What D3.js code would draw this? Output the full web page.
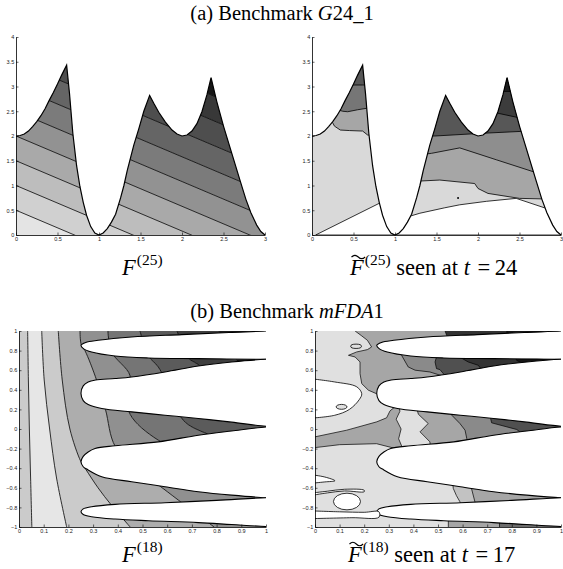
<!DOCTYPE html>
<html>
<head>
<meta charset="utf-8">
<script src="https://cdnjs.cloudflare.com/ajax/libs/d3/7.8.5/d3.min.js"></script>
<style>
  body { margin: 0; background: #fff; }
  svg { display: block; }
</style>
</head>
<body>
<script>
// ---------------- data: (a) G24_1 ----------------
const g24XTicks = [0, 0.5, 1, 1.5, 2, 2.5, 3];
const g24YTicks = [0, 0.5, 1, 1.5, 2, 2.5, 3, 3.5, 4];

// upper edge of the feasible region
const g24Boundary = [[0,2.0],[0.05,2.01],[0.1,2.04],[0.15,2.1],[0.2,2.19],[0.25,2.29],[0.3,2.41],[0.35,2.55],
  [0.4,2.72],[0.45,2.88],[0.5,3.05],[0.55,3.23],[0.61,3.43],[0.645,2.85],[0.685,2.05],[0.73,1.4],[0.77,0.98],
  [0.81,0.66],[0.85,0.4],[0.9,0.17],[0.95,0.04],[1.0,0],[1.05,0.04],[1.1,0.13],[1.15,0.26],[1.2,0.42],
  [1.26,0.75],[1.3,1.0],[1.34,1.3],[1.42,1.82],[1.48,2.15],[1.54,2.5],[1.61,2.82],[1.66,2.66],[1.72,2.48],
  [1.8,2.28],[1.88,2.12],[1.94,2.04],[2.0,2.0],[2.06,2.02],[2.12,2.1],[2.18,2.25],[2.24,2.49],[2.3,2.83],
  [2.35,3.18],[2.42,2.69],[2.5,2.2],[2.6,1.65],[2.7,1.1],[2.77,0.72],[2.83,0.45],[2.9,0.2],[2.95,0.07],[3.0,0]];

// F(25): straight level lines  y = level - slope * x
const g24Levels = [0.5, 1, 1.5, 2, 2.5, 3, 3.5, 4, 4.5];
const g24Slope = 0.71;

// approximation seen at t = 24: level index + outline
const g24ApproxLevel = [1, 3, 4, 1, 2, 4, 5, 6];
const g24ApproxShapes = [
  [[0.2,2.6],[0.233,2.32],[0.27,2.2],[0.341,2.12],[0.45,2.11],[0.61,2.1],[0.67,2.02],[0.8,2.0],[0.8,3.8],[0.2,3.8]],
  [[0.28,2.9],[0.31,2.53],[0.37,2.5],[0.43,2.49],[0.55,2.53],[0.66,2.56],[0.8,2.56],[0.8,3.8],[0.28,3.8]],
  [[0.45,3.3],[0.47,3.03],[0.61,3.03],[0.8,3.03],[0.8,3.8],[0.45,3.8]],
  [[1.2,1.09],[1.3,1.09],[1.54,1.11],[1.96,1.04],[2.0,0.94],[2.12,0.84],[2.5,0.74],[2.76,0.73],[3.2,0.73],[3.2,3.8],[1.2,3.8]],
  [[1.3,1.62],[1.44,1.65],[1.78,1.76],[2.22,1.52],[2.7,1.26],[3.2,1.1],[3.2,3.8],[1.3,3.8]],
  [[1.4,2.0],[1.48,2.0],[2.0,2.05],[2.6,2.1],[3.2,2.1],[3.2,3.8],[1.4,3.8]],
  [[2.15,2.5],[2.24,2.46],[2.49,2.37],[2.7,2.35],[2.7,3.8],[2.15,3.8]],
  [[2.25,2.9],[2.32,2.9],[2.42,2.9],[2.6,2.9],[2.6,3.8],[2.25,3.8]]
];
const g24ApproxEmpty = [
  [[0.044,0],[0.81,0.64],[0.98,0.64],[0.98,0]],
  [[1.0,0],[1.0,0.39],[1.2,0.39],[1.3,0.44],[1.6,0.55],[1.78,0.61],[2.1,0.68],[2.46,0.74],[2.8,0.55],[3.2,0.55],[3.2,0]]
];
const g24ApproxDot = [1.76, 0.75];

// ---------------- data: (b) mFDA1 ----------------
const fdaXTicks = [0, 0.1, 0.2, 0.3, 0.4, 0.5, 0.6, 0.7, 0.8, 0.9, 1];
const fdaYTicks = [-1, -0.8, -0.6, -0.4, -0.2, 0, 0.2, 0.4, 0.6, 0.8, 1];

// infeasible lobes: upper edge (right -> tip) then lower edge (tip -> right)
const fdaHoles = [
  [[1.06,1.01],[1.0,1.0],[0.85,0.985],[0.659,0.963],[0.456,0.939],[0.32,0.905],[0.27,0.883],[0.251,0.854],
   [0.262,0.818],[0.294,0.786],[0.389,0.745],[0.524,0.725],[0.726,0.718],[1.0,0.711],[1.06,0.71]],
  [[1.06,0.712],[1.0,0.711],[0.861,0.684],[0.726,0.643],[0.591,0.582],[0.456,0.531],[0.389,0.515],[0.31,0.5],
   [0.28,0.48],[0.26,0.44],[0.251,0.362],[0.26,0.29],[0.28,0.25],[0.335,0.209],[0.456,0.175],[0.591,0.141],
   [0.726,0.107],[0.861,0.07],[1.0,0.028],[1.06,0.025]],
  [[1.06,0.02],[1.0,0.02],[0.861,-0.02],[0.726,-0.063],[0.564,-0.131],[0.389,-0.171],[0.308,-0.199],[0.28,-0.235],
   [0.26,-0.28],[0.251,-0.334],[0.26,-0.385],[0.274,-0.409],[0.335,-0.487],[0.456,-0.538],[0.591,-0.589],
   [0.726,-0.64],[0.861,-0.675],[1.0,-0.701],[1.06,-0.703]],
  [[1.06,-0.7],[1.0,-0.701],[0.8,-0.728],[0.591,-0.752],[0.389,-0.769],[0.294,-0.793],[0.26,-0.815],[0.251,-0.844],
   [0.26,-0.872],[0.294,-0.895],[0.389,-0.919],[0.524,-0.936],[0.726,-0.955],[0.861,-0.975],[1.0,-0.995],[1.06,-0.998]]
];

// F(18): level curves, top (y=1) to bottom (y=-1)
const fdaContours = [
  [[0.035,1],[0.038,0.5],[0.042,0],[0.047,-0.5],[0.052,-1]],
  [[0.092,1],[0.102,0.5],[0.124,0],[0.152,-0.5],[0.193,-1]],
  [[0.159,1],[0.175,0.5],[0.206,0],[0.25,-0.33],[0.27,-0.41],[0.32,-0.6],[0.375,-0.78],[0.45,-1]],
  [[0.247,1],[0.252,0.86],[0.267,0.8],[0.314,0.5],[0.35,0.2],[0.39,-0.18],[0.5,-0.45],[0.564,-0.57],[0.645,-0.725],[0.79,-1]],
  [[0.36,1],[0.375,0.786],[0.449,0.548],[0.44,0.35],[0.45,0.15],[0.564,-0.114],[0.8,-0.35],[1.1,-0.6],[1.3,-1]],
  [[0.49,1],[0.524,0.745],[0.564,0.633],[0.62,0.35],[0.665,0.09],[0.766,-0.053],[1.1,-0.3],[1.5,-1]],
  [[0.64,1],[0.686,0.725],[0.72,0.667],[0.9,0.35],[1.15,0.0],[1.4,-0.4],[1.8,-1]],
  [[0.81,1],[0.875,0.72],[1.0,0.55],[1.4,0],[2.0,-1]]
];
// grey level of each band between successive curves (left of first .. right of last)
const fdaBandLevel = [1, 0, 1, 2, 3, 4, 5, 6, 7];

// approximation seen at t = 17
const fdaApproxLevel = [2, 3, 5, 6, 7, 6, 7, 2, 2, 3, 5, 1, 2, 2, 4];
const fdaApproxShapes = [
  [[0.163,1.05],[0.163,1.0],[0.19,0.95],[0.213,0.905],[0.23,0.837],[0.213,0.81],[0.169,0.786],[0.136,0.752],
   [0.163,0.735],[0.183,0.684],[0.183,0.565],[0.19,0.463],[0.217,0.396],[0.25,0.36],[1.1,0.36],[1.1,1.05]],
  [[0.33,0.82],[0.352,0.752],[0.379,0.633],[0.407,0.6],[0.467,0.582],[0.52,0.54],[1.1,0.54],[1.1,0.85],[0.33,0.85]],
  [[0.49,0.8],[0.494,0.735],[0.488,0.684],[0.494,0.616],[0.508,0.606],[0.53,0.54],[1.1,0.54],[1.1,0.8]],
  [[0.57,0.8],[0.576,0.752],[0.623,0.684],[0.664,0.65],[0.671,0.626],[0.68,0.6],[1.1,0.6],[1.1,0.8]],
  [[0.81,0.75],[0.82,0.70],[0.833,0.684],[0.85,0.66],[1.1,0.66],[1.1,0.75]],
  [[0.529,1.05],[0.529,1.0],[0.535,0.956],[0.55,0.9],[1.1,0.9],[1.1,1.05]],
  [[0.78,1.05],[0.78,0.95],[1.1,0.95],[1.1,1.05]],
  [[-0.05,-0.08],[0.0,-0.08],[0.129,-0.012],[0.251,0.073],[0.291,0.114],[0.305,0.185],[0.325,0.226],[0.34,0.3],
   [0.345,0.18],[0.33,0.1],[0.35,0.0],[0.34,-0.1],[0.36,-0.22],[0.25,-0.15],[0.1,-0.16],[0.0,-0.19],[-0.05,-0.19]],
  [[0.41,0.25],[0.42,0.151],[0.46,0.056],[0.427,-0.029],[0.467,-0.131],[0.47,-0.2],[1.1,-0.2],[1.1,0.25]],
  [[0.55,0.2],[0.556,0.141],[0.589,0.056],[0.61,-0.012],[0.617,-0.097],[0.62,-0.15],[1.1,-0.15],[1.1,0.2]],
  [[0.71,0.15],[0.718,0.063],[0.82,-0.005],[0.833,-0.029],[0.84,-0.06],[1.1,-0.06],[1.1,0.15]],
  [[0.56,-0.55],[0.562,-0.606],[0.575,-0.68],[0.589,-0.742],[0.6,-0.8],[1.1,-0.8],[1.1,-0.55]],
  [[0.634,-0.58],[0.636,-0.606],[0.65,-0.742],[0.66,-0.8],[1.1,-0.8],[1.1,-0.58]],
  [[0.542,-0.9],[0.542,-1.05],[1.1,-1.05],[1.1,-0.9]],
  [[0.75,-0.9],[0.75,-1.05],[1.1,-1.05],[1.1,-0.9]]
];
// areas below the lowest level (left unfilled)
const fdaApproxEmpty = [
  [[-0.02,0.514],[0.08,0.48],[0.17,0.43],[0.19,0.36],[0.18,0.3],[0.14,0.2],[0.08,0.14],[-0.02,0.11]],
  [[-0.02,-0.465],[0.04,-0.49],[0.081,-0.528],[0.04,-0.54],[-0.02,-0.555]],
  [[-0.02,-0.655],[0.05,-0.635],[0.12,-0.615],[0.2,-0.625],[0.2,-0.64],[0.12,-0.632],[0.05,-0.652],[-0.02,-0.68]],
  [[-0.02,-0.835],[0.1,-0.845],[0.2,-0.85],[0.26,-0.845],[0.26,-0.9],[0.15,-0.905],[-0.02,-0.915]]
];
// small closed contours: centre x, centre y, half width, half height, filled level (-1 = empty)
const fdaApproxLoops = [[0.167,0.844,0.022,0.022,0],[0.108,0.226,0.022,0.025,0],[0.13,-0.74,0.055,0.085,-1]];

// ---------------- drawing ----------------
const serif = "'Liberation Serif', 'Times New Roman', 'DejaVu Serif', serif";
const g24Grays = ["#e4e4e4","#d0d0d0","#bdbdbd","#a9a9a9","#929292","#7b7b7b","#656565","#4e4e4e","#383838","#161616"];
const approxGrays = ["#d9d9d9","#a6a6a6","#8e8e8e","#767676","#575757","#3c3c3c","#1c1c1c"];
const fdaGrays = ["#e6e6e6","#cbcbcb","#adadad","#909090","#757575","#5b5b5b","#3f3f3f","#1d1d1d"];
const brGrays = ["#e0e0e0","#c2c2c2","#a6a6a6","#8a8a8a","#6c6c6c","#505050","#333333","#161616"];

const svg = d3.select("body").append("svg").attr("width", 563).attr("height", 569);
const defs = svg.append("defs");
const lin = d3.line();
const smooth = d3.line().curve(d3.curveCatmullRom.alpha(0.5));

function setup(box, xd, yd) {
  const x = d3.scaleLinear().domain(xd).range([box[0], box[1]]);
  const y = d3.scaleLinear().domain(yd).range([box[3], box[2]]);
  return { x, y, P: p => [x(p[0]), y(p[1])] };
}

function axes(S, xt, yt) {
  const fmt = d3.format("~g");
  const gx = svg.append("g").attr("transform", `translate(0,${S.y.range()[0]})`)
    .call(d3.axisBottom(S.x).tickValues(xt).tickSizeInner(-2.5).tickSizeOuter(0).tickPadding(2.5).tickFormat(fmt));
  const gy = svg.append("g").attr("transform", `translate(${S.x.range()[0]},0)`)
    .call(d3.axisLeft(S.y).tickValues(yt).tickSizeInner(-2.5).tickSizeOuter(0).tickPadding(1.8).tickFormat(fmt));
  [gx, gy].forEach(g => {
    g.attr("font-size", 5.5).attr("font-family", "'Liberation Sans', Arial, sans-serif");
    g.select(".domain").attr("stroke", "#000").attr("stroke-width", 0.8);
    g.selectAll(".tick line").attr("stroke", "#000").attr("stroke-width", 0.6);
    g.selectAll(".tick text").attr("fill", "#222");
  });
}

// --- G24 panels share the region clip
function g24Panel(id, box) {
  const S = setup(box, [0, 3], [0, 4]);
  const region = g24Boundary.concat([[0, 0]]).map(S.P);
  defs.append("clipPath").attr("id", id).append("path").attr("d", lin(region) + "Z");
  const g = svg.append("g").attr("clip-path", `url(#${id})`);
  return { S, g };
}

// top-left: true function F(25)
{
  const { S, g } = g24Panel("clipTL", [16, 265, 37, 235]);
  const edges = [-10].concat(g24Levels, [20]);
  for (let i = 0; i < edges.length - 1; i++) {
    const lo = edges[i], hi = edges[i + 1];
    const pts = [[-0.2, lo + g24Slope * 0.2], [3.2, lo - g24Slope * 3.2], [3.2, hi - g24Slope * 3.2], [-0.2, hi + g24Slope * 0.2]];
    g.append("path").attr("d", lin(pts.map(S.P)) + "Z").attr("fill", g24Grays[i]);
  }
  g24Levels.forEach(c => {
    g.append("path").attr("d", lin([[-0.2, c + g24Slope * 0.2], [3.2, c - g24Slope * 3.2]].map(S.P)))
      .attr("stroke", "#000").attr("stroke-width", 0.8).attr("fill", "none");
  });
  svg.append("path").attr("d", lin(g24Boundary.map(S.P))).attr("fill", "none").attr("stroke", "#000").attr("stroke-width", 1.2);
  axes(S, g24XTicks, g24YTicks);
}

// top-right: approximation
{
  const { S, g } = g24Panel("clipTR", [312, 561, 37, 235]);
  g.append("path").attr("d", lin(g24Boundary.concat([[0, 0]]).map(S.P)) + "Z").attr("fill", approxGrays[0]);
  g24ApproxShapes.forEach((pts, i) => {
    g.append("path").attr("d", lin(pts.map(S.P)) + "Z").attr("fill", approxGrays[g24ApproxLevel[i]])
      .attr("stroke", "#000").attr("stroke-width", 0.8);
  });
  g24ApproxEmpty.forEach(pts => {
    g.append("path").attr("d", lin(pts.map(S.P)) + "Z").attr("fill", "#fff")
      .attr("stroke", "#000").attr("stroke-width", 0.8);
  });
  g.append("circle").attr("cx", S.x(g24ApproxDot[0])).attr("cy", S.y(g24ApproxDot[1])).attr("r", 1).attr("fill", "#000");
  svg.append("path").attr("d", lin(g24Boundary.map(S.P))).attr("fill", "none").attr("stroke", "#000").attr("stroke-width", 1.2);
  axes(S, g24XTicks, g24YTicks);
}

// --- mFDA1 panels
function fdaPanel(id, box) {
  const S = setup(box, [0, 1], [-1, 1]);
  defs.append("clipPath").attr("id", id).append("rect")
    .attr("x", box[0]).attr("y", box[2]).attr("width", box[1] - box[0]).attr("height", box[3] - box[2]);
  const g = svg.append("g").attr("clip-path", `url(#${id})`);
  return { S, g };
}
function drawHoles(S, g) {
  fdaHoles.forEach(pts => {
    g.append("path").attr("d", smooth(pts.map(S.P))).attr("fill", "#fff")
      .attr("stroke", "#000").attr("stroke-width", 1.1);
  });
}

// bottom-left: F(18)
{
  const { S, g } = fdaPanel("clipBL", [19, 266, 331, 527]);
  const lines = [[[-0.1, 1], [-0.1, -1]]].concat(fdaContours, [[[2.2, 1], [2.2, -1]]]);
  for (let i = 0; i < lines.length - 1; i++) {
    const a = smooth(lines[i].map(S.P));
    const b = smooth(lines[i + 1].slice().reverse().map(S.P)).replace(/^M/, "L");
    g.append("path").attr("d", a + b + "Z").attr("fill", fdaGrays[fdaBandLevel[i]]);
  }
  fdaContours.forEach(pts => {
    g.append("path").attr("d", smooth(pts.map(S.P))).attr("fill", "none")
      .attr("stroke", "#000").attr("stroke-width", 0.8);
  });
  drawHoles(S, g);
  axes(S, fdaXTicks, fdaYTicks);
}

// bottom-right: approximation
{
  const { S, g } = fdaPanel("clipBR", [315, 561, 331, 527]);
  g.append("rect").attr("x", 315).attr("y", 331).attr("width", 246).attr("height", 196).attr("fill", brGrays[0]);
  fdaApproxShapes.forEach((pts, i) => {
    g.append("path").attr("d", lin(pts.map(S.P)) + "Z").attr("fill", brGrays[fdaApproxLevel[i]])
      .attr("stroke", "#000").attr("stroke-width", 0.7);
  });
  drawHoles(S, g);
  fdaApproxEmpty.forEach(pts => {
    g.append("path").attr("d", smooth(pts.map(S.P)) + "Z").attr("fill", "#fff")
      .attr("stroke", "#000").attr("stroke-width", 0.8);
  });
  fdaApproxLoops.forEach(e => {
    g.append("ellipse").attr("cx", S.x(e[0])).attr("cy", S.y(e[1]))
      .attr("rx", S.x(e[0] + e[2]) - S.x(e[0])).attr("ry", S.y(e[1] - e[3]) - S.y(e[1]))
      .attr("fill", e[4] < 0 ? "#fff" : brGrays[e[4]]).attr("stroke", "#000").attr("stroke-width", 0.8);
  });
  axes(S, fdaXTicks, fdaYTicks);
}

// ---------------- titles and captions ----------------
function title(cx, by, parts) {
  const t = svg.append("text").attr("font-family", serif).attr("x", cx).attr("y", by)
    .attr("text-anchor", "middle").attr("font-size", 20.5);
  parts.forEach(p => t.append("tspan").attr("font-style", p[1] ? "italic" : "normal").text(p[0]));
}
title(282, 20, [["(a) Benchmark ", false], ["G", true], ["24", false], ["_", false], ["1", false]]);
title(287, 318, [["(b) Benchmark ", false], ["mFDA", true], ["1", false]]);

function caption(x0, by, sup, tail, tilde) {
  const t = svg.append("text").attr("font-family", serif).attr("x", x0).attr("y", by).attr("font-size", 22.5);
  t.append("tspan").attr("font-style", "italic").text("F");
  t.append("tspan").attr("font-size", 15.5).attr("dy", -10).attr("dx", 1).text("(" + sup + ")");
  if (tail) {
    t.append("tspan").attr("dy", 10).text(" seen at ");
    t.append("tspan").attr("font-style", "italic").text("t");
    t.append("tspan").text("\u2009=\u2009" + tail).attr("dx", 3);
  }
  if (tilde) {
    svg.append("path").attr("d", `M${x0 + 1.5},${by - 18} q3.4,-3.4 6.8,0 t6.8,0`)
      .attr("fill", "none").attr("stroke", "#000").attr("stroke-width", 1.1);
  }
}
caption(122, 275, "25", null, false);
caption(350, 275, "25", "24", true);
caption(122, 562, "18", null, false);
caption(348, 562, "18", "17", true);
</script>
</body>
</html>
